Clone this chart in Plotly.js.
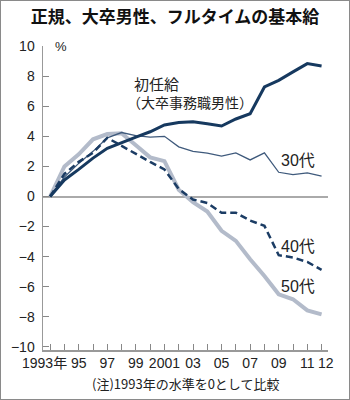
<!DOCTYPE html>
<html>
<head>
<meta charset="utf-8">
<script src="https://cdn.plot.ly/plotly-3.0.1.min.js"></script>
<style>
  html, body { margin: 0; padding: 0; background: #fff; }
  #wrap { position: relative; width: 350px; height: 400px; }
  #frame { position: absolute; left: 0; top: 0; width: 350px; height: 400px; box-sizing: border-box; border: 1px solid #8a8a8a; pointer-events: none; }
</style>
</head>
<body>
<div id="wrap"><div id="chart" style="width:350px;height:400px;"></div><div id="frame"></div></div>
<script>
const years = [1993,1994,1995,1996,1997,1998,1999,2000,2001,2002,2003,2004,2005,2006,2007,2008,2009,2010,2011,2012];
const starting = [0,1.1,1.8,2.55,3.2,3.6,3.95,4.3,4.75,4.92,4.97,4.83,4.68,5.15,5.5,7.28,7.72,8.28,8.83,8.67];
const age30 = [0,1.3,2.2,3.0,3.9,4.25,4.05,3.95,4.0,3.3,3.0,2.88,2.68,2.9,2.43,2.9,1.61,1.45,1.57,1.35];
const age40 = [0,1.5,2.3,2.9,3.9,3.35,2.85,2.3,1.8,0.5,-0.2,-0.43,-1.08,-1.08,-1.6,-1.95,-3.9,-4.05,-4.35,-4.88];
const age50 = [0,2.0,2.8,3.8,4.15,4.2,3.4,2.6,2.35,0.45,-0.38,-1.0,-2.28,-2.95,-4.17,-5.28,-6.5,-6.83,-7.57,-7.83];
const tickYears = years;
const tickLabels = ["","","95","","97","","99","","2001","","03","","05","","07","","09","","11",""];
const firstYearLabel = "1993年";
const lastYearLabel = "12";
const yTicks = [10,8,6,4,2,0,-2,-4,-6,-8,-10];

const numFont = "Liberation Sans, Arial, Noto Sans CJK JP, sans-serif";
const cjkFont = "Noto Sans CJK JP, sans-serif";

const traces = [
  {x: years, y: age50, mode: 'lines', line: {color: '#b3bbca', width: 4}, hoverinfo: 'skip'},
  {x: years, y: age30, mode: 'lines', line: {color: '#3f5a7c', width: 1.3}, hoverinfo: 'skip'},
  {x: years, y: age40, mode: 'lines', line: {color: '#1b3c64', width: 2.5, dash: '7px,4px'}, hoverinfo: 'skip'},
  {x: years, y: starting, mode: 'lines', line: {color: '#16395f', width: 3}, hoverinfo: 'skip'}
];

const layout = {
  width: 350, height: 400,
  margin: {l: 43, r: 22, t: 46, b: 50},
  paper_bgcolor: '#fff', plot_bgcolor: '#fff',
  showlegend: false,
  title: {text: '正規、大卒男性、フルタイムの基本給', font: {family: cjkFont, size: 17, color: '#111', weight: 'bold'}, x: 0.5, xanchor: 'center', y: 0.957, yanchor: 'middle'},
  xaxis: {
    range: [1992.5, 2012.45], tickmode: 'array', tickvals: tickYears, ticktext: tickLabels, tickangle: 0,
    ticks: 'inside', ticklen: 6, tickcolor: '#888', tickwidth: 1,
    showline: true, linecolor: '#999', linewidth: 1.5, showgrid: false, zeroline: false,
    tickfont: {family: numFont, size: 14, color: '#222'}
  },
  yaxis: {
    range: [-10.2, 10], tickmode: 'array', tickvals: yTicks,
    ticks: 'inside', ticklen: 6, tickcolor: '#888', tickwidth: 1,
    showline: true, linecolor: '#999', linewidth: 1.5, showgrid: false,
    zeroline: true, zerolinecolor: '#aaaaaa', zerolinewidth: 2,
    tickfont: {family: numFont, size: 14, color: '#222'}, ticklabelstandoff: 4
  },
  annotations: [
    {text: firstYearLabel, xref: 'x', yref: 'paper', x: years[0], y: 0, xshift: -6, yshift: -13, xanchor: 'center', yanchor: 'middle', showarrow: false, font: {family: numFont, size: 14, color: '#222'}},
    {text: lastYearLabel, xref: 'x', yref: 'paper', x: years[years.length - 1], y: 0, xshift: 4, yshift: -13, xanchor: 'center', yanchor: 'middle', showarrow: false, font: {family: numFont, size: 14, color: '#222'}},
    {text: '%', xref: 'paper', yref: 'paper', x: 0, y: 1, xshift: 10, xanchor: 'left', yanchor: 'middle', showarrow: false, font: {family: numFont, size: 13, color: '#222'}},
    {text: '初任給', xref: 'x', yref: 'y', x: 1998.7, y: 7.5, xanchor: 'left', yanchor: 'middle', showarrow: false, font: {family: cjkFont, size: 15, color: '#222'}},
    {text: '（大卒事務職男性）', xref: 'x', yref: 'y', x: 1998.7, y: 6.3, xshift: -7, xanchor: 'left', yanchor: 'middle', showarrow: false, font: {family: cjkFont, size: 14, color: '#222'}},
    {text: '30代', xref: 'x', yref: 'y', x: 2009.0, y: 2.4, xanchor: 'left', yanchor: 'middle', showarrow: false, font: {family: numFont, size: 16, color: '#222'}},
    {text: '40代', xref: 'x', yref: 'y', x: 2009.0, y: -3.3, xanchor: 'left', yanchor: 'middle', showarrow: false, font: {family: numFont, size: 16, color: '#222'}},
    {text: '50代', xref: 'x', yref: 'y', x: 2009.0, y: -6.0, xanchor: 'left', yanchor: 'middle', showarrow: false, font: {family: numFont, size: 16, color: '#222'}},
    {text: '(注)1993年の水準を0として比較', xref: 'paper', yref: 'paper', x: 0.5, y: 0, yshift: -33, xshift: 0, xanchor: 'center', yanchor: 'middle', showarrow: false, font: {family: cjkFont, size: 13, color: '#222'}}
  ]
};

Plotly.newPlot('chart', traces, layout, {displayModeBar: false, staticPlot: true});
</script>
</body>
</html>
